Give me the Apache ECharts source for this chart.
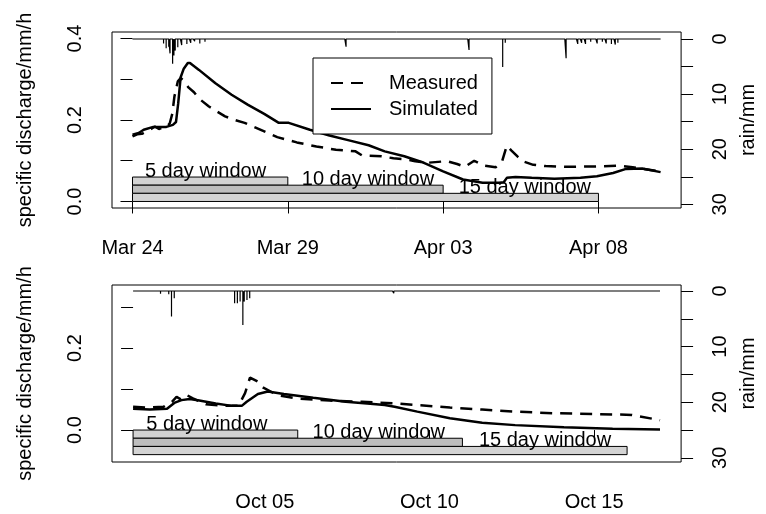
<!DOCTYPE html>
<html>
<head>
<meta charset="utf-8">
<script src="https://cdn.jsdelivr.net/npm/echarts@6/dist/echarts.min.js"></script>
<style>
html,body{margin:0;padding:0;background:#fff;}
#c{width:766px;height:514px;}
</style>
</head>
<body>
<div id="c"></div>
<script>
// ---------- Panel 1 (March/April), x = days since Mar 24 00:00 ----------
const measuredDays1 = [0,0.15,0.3,0.45,0.6,0.72,0.85,1.0,1.1,1.2,1.28,1.35,1.46,1.55,1.65,1.8,1.98,2.15,2.46,2.98,3.3,3.61,4.13,4.66,5.29,5.92,6.55,7.18,7.39,8.02,8.4,8.75,9.1,9.49,10.12,10.45,10.7,11.0,11.3,11.69,11.9,12.05,12.2,12.4,12.55,12.9,13.3,13.9,14.95,15.68,16.1,16.41,17.0];
const measuredQ1    = [0.160,0.165,0.166,0.172,0.178,0.184,0.178,0.182,0.183,0.192,0.215,0.258,0.295,0.303,0.296,0.280,0.268,0.252,0.233,0.209,0.200,0.193,0.176,0.158,0.145,0.135,0.127,0.123,0.113,0.111,0.106,0.104,0.099,0.095,0.099,0.092,0.085,0.100,0.088,0.084,0.099,0.137,0.125,0.110,0.099,0.090,0.087,0.085,0.086,0.088,0.084,0.080,0.074];
const simulatedDays1 = [0,0.2,0.36,0.67,1.09,1.3,1.4,1.47,1.55,1.65,1.78,1.85,2.14,2.67,3.19,3.72,4.24,4.71,5.03,5.71,6.34,6.97,7.6,8.12,8.75,9.38,10.0,10.64,11.27,11.8,11.95,12.05,12.33,12.85,13.58,14.42,14.95,15.47,15.89,16.41,17.0];
const simulatedQ1    = [0.164,0.168,0.176,0.183,0.183,0.188,0.195,0.240,0.305,0.326,0.340,0.340,0.323,0.290,0.262,0.237,0.215,0.193,0.193,0.176,0.162,0.150,0.138,0.123,0.111,0.095,0.074,0.054,0.046,0.046,0.047,0.058,0.060,0.058,0.056,0.058,0.062,0.070,0.080,0.081,0.072];
const rainHours1 = [24,26,28,29,31,32,33,35,38,42,45,48,52,56,165,260,286,288,335,344,347,350,354,359,363,366,370,373,375];
const rainMM1    = [0.8,1.7,1.4,2.6,4.5,3.0,2.1,1.5,1.1,0.9,0.7,0.4,0.8,0.5,1.4,2.0,5.1,0.7,3.5,0.9,0.7,0.9,0.5,0.8,0.5,0.8,0.9,1.0,0.7];
const rainTotalHours1 = 408;
const xTickDays1 = [0,5,10,15];
const xTickLabels1 = ['Mar 24','Mar 29','Apr 03','Apr 08'];
const windowLow1  = [0.04,0.02,0.0];
const windowHigh1 = [0.06,0.04,0.02];
const windowLabelDay1 = [0.4,5.45,10.5];

// ---------- Panel 2 (October), x = days since Oct 01 00:00 ----------
const measuredDays2 = [0,0.4,0.93,1.18,1.32,1.45,1.64,1.8,2.21,2.8,3.2,3.4,3.55,3.79,3.94,4.39,4.98,5.96,6.95,7.94,8.63,9.62,10.6,11.6,12.78,14.06,15.15,16.0];
const measuredQ2    = [0.057,0.055,0.057,0.069,0.081,0.075,0.085,0.078,0.063,0.059,0.059,0.090,0.128,0.118,0.104,0.085,0.077,0.072,0.069,0.065,0.061,0.055,0.050,0.045,0.041,0.039,0.037,0.024];
const simulatedDays2 = [0,0.5,1.03,1.27,1.47,1.72,2.01,2.51,3.0,3.3,3.45,3.79,4.09,4.58,5.47,6.46,7.2,7.64,7.94,8.63,9.62,10.6,11.6,13.08,14.56,16.0];
const simulatedQ2    = [0.052,0.050,0.052,0.067,0.073,0.076,0.072,0.065,0.059,0.059,0.069,0.088,0.094,0.088,0.079,0.069,0.064,0.061,0.057,0.045,0.029,0.018,0.012,0.0066,0.003,0.0016];
const rainHours2 = [20,22,26,28,30,74,76,78,80,81,83,85,151,175,190];
const rainMM2    = [0.5,0.3,0.6,4.6,1.3,2.2,2.2,1.9,6.1,1.9,1.6,1.3,0.3,0.3,0.4];
const rainTotalHours2 = 384;
const xTickDays2 = [4,9,14];
const xTickLabels2 = ['Oct 05','Oct 10','Oct 15'];
const windowLow2  = [-0.02,-0.04,-0.06];
const windowHigh2 = [0.0,-0.02,-0.04];
const windowLabelDay2 = [0.4,5.45,10.5];

// ---------- shared ----------
const windowLengths = [5,10,15];
const windowNames = ['5 day window','10 day window','15 day window'];
const qTicks1 = [0,0.1,0.2,0.3,0.4];
const qLabels1 = [0,0.2,0.4];
const qTicks2 = [0,0.1,0.2,0.3];
const qLabels2 = [0,0.2];
const rainTicks = [0,5,10,15,20,25,30];
const rainLabels = [0,10,20,30];

// ---------- helpers ----------
const FONT = 'Liberation Sans, Arial, sans-serif';
const windowFill = ['#d3d3d3','#bebebe','#d3d3d3'];
function zip(xs, ys){ return xs.map((x,i)=>[x, ys[i]]); }
// hourly rain drawn as a baseline with vertical drops at each rainy hour
function rainSeriesData(hours, mm, total){
  const vals = new Array(total+1).fill(0);
  hours.forEach((h,i)=>{ vals[h] = mm[i]; });
  const out = [];
  vals.forEach((v,h)=>{
    out.push([h/24, 0]);
    if (v > 0) { out.push([h/24, v]); out.push([h/24, 0]); }
  });
  return out;
}
function windowData(low, high, labelDay){
  return windowLengths.map((len,i)=>[0, len, low[i], high[i], labelDay[i], i]);
}
function windowRender(params, api){
  const i = api.value(5);
  const p0 = api.coord([api.value(0), api.value(3)]);
  const p1 = api.coord([api.value(1), api.value(2)]);
  const pt = api.coord([api.value(4), api.value(3)]);
  return {
    type:'group',
    children:[
      {type:'rect', shape:{x:p0[0], y:p0[1], width:p1[0]-p0[0], height:p1[1]-p0[1]},
       style:{fill:windowFill[i], stroke:'#000', lineWidth:1}},
      {type:'text', z2:10, style:{text:windowNames[i], x:pt[0], y:pt[1]+4, align:'left', verticalAlign:'bottom',
        font:'20px '+FONT, fill:'#000'}}
    ]
  };
}
function xAxis(grid, min, max, ticks, labels){
  return {
    gridIndex:grid, type:'value', min:min, max:max,
    axisLine:{show:false}, splitLine:{show:false},
    axisTick:{show:true, length:12, customValues:ticks, lineStyle:{color:'#000', width:1}},
    axisLabel:{show:true, customValues:ticks, margin:30, fontSize:20, color:'#000', fontFamily:FONT,
      formatter:(v)=>{ const k = ticks.findIndex(t=>Math.abs(t-v)<1e-6); return k>=0 ? labels[k] : ''; }}
  };
}
function qAxis(grid, min, max, ticks, labels){
  return {
    gridIndex:grid, type:'value', position:'left', min:min, max:max,
    axisLine:{show:false}, splitLine:{show:false},
    axisTick:{show:true, length:12, customValues:ticks, lineStyle:{color:'#000', width:1}},
    axisLabel:{show:true, customValues:labels, rotate:90, margin:27, fontSize:20, color:'#000', fontFamily:FONT,
      formatter:(v)=>Number(v).toFixed(1)},
    name:'specific discharge/mm/h', nameLocation:'middle', nameGap:77,
    nameTextStyle:{fontSize:20, color:'#000', fontFamily:FONT}
  };
}
function rainAxis(grid, min, max){
  return {
    gridIndex:grid, type:'value', position:'right', inverse:true, min:min, max:max,
    axisLine:{show:false}, splitLine:{show:false},
    axisTick:{show:true, length:12, customValues:rainTicks, lineStyle:{color:'#000', width:1}},
    axisLabel:{show:true, customValues:rainLabels, rotate:90, margin:29, fontSize:20, color:'#000', fontFamily:FONT,
      formatter:(v)=>String(Math.round(v))},
    name:'rain/mm', nameLocation:'middle', nameGap:52,
    nameTextStyle:{fontSize:20, color:'#000', fontFamily:FONT}
  };
}
const dashStyle = {type:[12,8], width:2.5, color:'#000'};
const solidStyle = {type:'solid', width:2.5, color:'#000'};

const option = {
  animation:false,
  backgroundColor:'#fff',
  textStyle:{fontFamily:FONT},
  grid:[
    {left:112, top:32, width:581, height:176, show:true, borderColor:'#000', borderWidth:1, backgroundColor:'rgba(0,0,0,0)'},
    {left:112, top:285, width:581, height:177, show:true, borderColor:'#000', borderWidth:1, backgroundColor:'rgba(0,0,0,0)'}
  ],
  legend:{
    show:true, left:313, top:58, orient:'vertical',
    data:['Measured','Simulated'],
    itemWidth:40, itemHeight:20, itemGap:6,
    padding:[15,14,15,17],
    borderColor:'#000', borderWidth:1, backgroundColor:'#fff',
    itemStyle:{color:'rgba(0,0,0,0)', borderWidth:0, opacity:0},
    textStyle:{fontSize:20, color:'#000', fontFamily:FONT, padding:[0,0,0,13]},
    selectedMode:false
  },
  xAxis:[
    xAxis(0, -0.66, 17.66, xTickDays1, xTickLabels1),
    xAxis(1, -0.64, 16.64, xTickDays2, xTickLabels2)
  ],
  yAxis:[
    qAxis(0, -0.016, 0.416, qTicks1, qLabels1),
    rainAxis(0, -1.27, 30.67),
    qAxis(1, -0.078, 0.354, qTicks2, qLabels2),
    rainAxis(1, -1.08, 30.76)
  ],
  series:[
    {name:'Measured', type:'line', xAxisIndex:0, yAxisIndex:0, data:zip(measuredDays1, measuredQ1), symbol:'none', lineStyle:dashStyle, itemStyle:{color:'#000'}, z:3},
    {name:'Simulated', type:'line', xAxisIndex:0, yAxisIndex:0, data:zip(simulatedDays1, simulatedQ1), symbol:'none', lineStyle:solidStyle, itemStyle:{color:'#000'}, z:3},
    {name:'rain1', type:'line', xAxisIndex:0, yAxisIndex:1, data:rainSeriesData(rainHours1, rainMM1, rainTotalHours1), symbol:'none', lineStyle:{width:1.2, color:'#000'}, itemStyle:{color:'#000'}, z:2},
    {name:'windows1', type:'custom', xAxisIndex:0, yAxisIndex:0, data:windowData(windowLow1, windowHigh1, windowLabelDay1), renderItem:windowRender, z:4, clip:false},
    {name:'Measured', type:'line', xAxisIndex:1, yAxisIndex:2, data:zip(measuredDays2, measuredQ2), symbol:'none', lineStyle:dashStyle, itemStyle:{color:'#000'}, z:3},
    {name:'Simulated', type:'line', xAxisIndex:1, yAxisIndex:2, data:zip(simulatedDays2, simulatedQ2), symbol:'none', lineStyle:solidStyle, itemStyle:{color:'#000'}, z:3},
    {name:'rain2', type:'line', xAxisIndex:1, yAxisIndex:3, data:rainSeriesData(rainHours2, rainMM2, rainTotalHours2), symbol:'none', lineStyle:{width:1.2, color:'#000'}, itemStyle:{color:'#000'}, z:2},
    {name:'windows2', type:'custom', xAxisIndex:1, yAxisIndex:2, data:windowData(windowLow2, windowHigh2, windowLabelDay2), renderItem:windowRender, z:4, clip:false}
  ]
};
const chart = echarts.init(document.getElementById('c'), null, {renderer:'canvas', width:766, height:514});
chart.setOption(option);
</script>
</body>
</html>
